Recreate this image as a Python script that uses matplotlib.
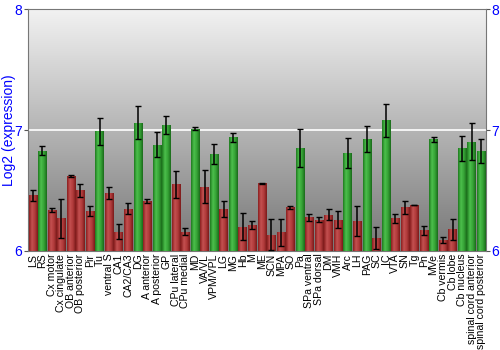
import numpy as np
import matplotlib
matplotlib.use('Agg')
import matplotlib.pyplot as plt
from matplotlib.colors import LinearSegmentedColormap

plt.rcParams['font.family'] = ['Liberation Sans', 'DejaVu Sans']

# data
regions = ['LS', 'RS', 'Cx motor', 'Cx cingulate', 'OB anterior', 'OB posterior', 'Pir', 'Tu',
           'ventral S', 'CA1', 'CA2/CA3', 'DG', 'A anterior', 'A posterior', 'GP', 'CPu lateral',
           'CPu medial', 'MD', 'VA/VL', 'VPM/VPL', 'LG', 'MG', 'Hb', 'M', 'ME', 'SCN', 'MPA', 'SO',
           'Pa', 'SPa ventral', 'SPa dorsal', 'DM', 'VMH', 'Arc', 'LH', 'PAG', 'SC', 'IC', 'VTA',
           'SN', 'Tg', 'Pn', 'MVe', 'Cb vermis', 'Cb lobe', 'Cb nucleus', 'spinal cord anterior',
           'spinal cord posterior']
values = [6.46, 6.83, 6.34, 6.27, 6.62, 6.50, 6.33, 6.99, 6.48, 6.16, 6.35, 7.06, 6.41, 6.88,
          7.04, 6.55, 6.16, 7.01, 6.53, 6.80, 6.35, 6.94, 6.20, 6.215, 6.56, 6.135, 6.155, 6.36,
          6.85, 6.28, 6.26, 6.30, 6.26, 6.81, 6.25, 6.925, 6.11, 7.08, 6.27, 6.36, 6.38, 6.17,
          6.925, 6.09, 6.18, 6.85, 6.905, 6.826]
errors = [0.045, 0.04, 0.017, 0.16, 0.005, 0.054, 0.045, 0.11, 0.05, 0.063, 0.044, 0.137, 0.017,
          0.105, 0.077, 0.115, 0.028, 0.012, 0.137, 0.082, 0.066, 0.037, 0.11, 0.033, 0.003, 0.13,
          0.113, 0.011, 0.157, 0.029, 0.02, 0.047, 0.069, 0.124, 0.123, 0.11, 0.091, 0.135, 0.037,
          0.052, 0.003, 0.04, 0.02, 0.028, 0.087, 0.104, 0.152, 0.1]
high = ['RS', 'Tu', 'DG', 'A posterior', 'GP', 'MD', 'VPM/VPL', 'MG', 'Pa', 'Arc', 'PAG', 'IC',
        'MVe', 'Cb nucleus', 'spinal cord anterior', 'spinal cord posterior']

fig = plt.figure(figsize=(5, 3.5), dpi=100)
ax = fig.add_axes([0.056, 0.283, 0.916, 0.691])

# grey background gradient
bg = LinearSegmentedColormap.from_list('bg', ['#777777', '#f2f2f2'])
ax.imshow(np.linspace(0, 1, 256).reshape(-1, 1), cmap=bg, origin='lower', aspect='auto',
          extent=[0, 1, 0, 1], transform=ax.transAxes, zorder=0)

x = np.arange(len(regions))
colors = ['#3a9a3a' if r in high else '#a83232' for r in regions]
bars = ax.bar(x, np.array(values) - 6, bottom=6, width=0.88, color=colors, zorder=2)

red_cm = LinearSegmentedColormap.from_list('r', ['#8a1f1f', '#c45050', '#b03a3a', '#7a1a1a'])
green_cm = LinearSegmentedColormap.from_list('g', ['#1f7a1f', '#4cbf4c', '#36a336', '#1a6a1a'])
for b, r in zip(bars, regions):
    cm = green_cm if r in high else red_cm
    im = ax.imshow(np.linspace(0, 1, 64).reshape(1, -1), cmap=cm, aspect='auto',
                   extent=[b.get_x(), b.get_x() + b.get_width(), 6, b.get_height() + 6],
                   zorder=3)
    im.set_clip_path(b)

ax.errorbar(x, values, yerr=errors, fmt='none', ecolor='black', elinewidth=1.1,
            capsize=2, capthick=1, zorder=4)

ax.axhline(7, color='white', lw=1.2, zorder=1)
ax.set_xlim(-0.5, len(regions) - 0.5)
ax.set_ylim(6, 8)
ax.set_yticks([6, 7, 8])
ax.tick_params(axis='y', colors='#555555', labelcolor='blue', labelsize=10,
               right=True, labelright=True, length=3, pad=1)
ax.set_xticks(x)
ax.set_xticklabels(regions, rotation=90, fontsize=7.6)
ax.tick_params(axis='x', length=0, pad=2)
ax.set_ylabel('Log2 (expression)', color='blue', fontsize=10)
ax.yaxis.set_label_coords(-0.027, 0.5)
for s in ax.spines.values():
    s.set_color('#777777')

fig.savefig('out.png', dpi=100)
